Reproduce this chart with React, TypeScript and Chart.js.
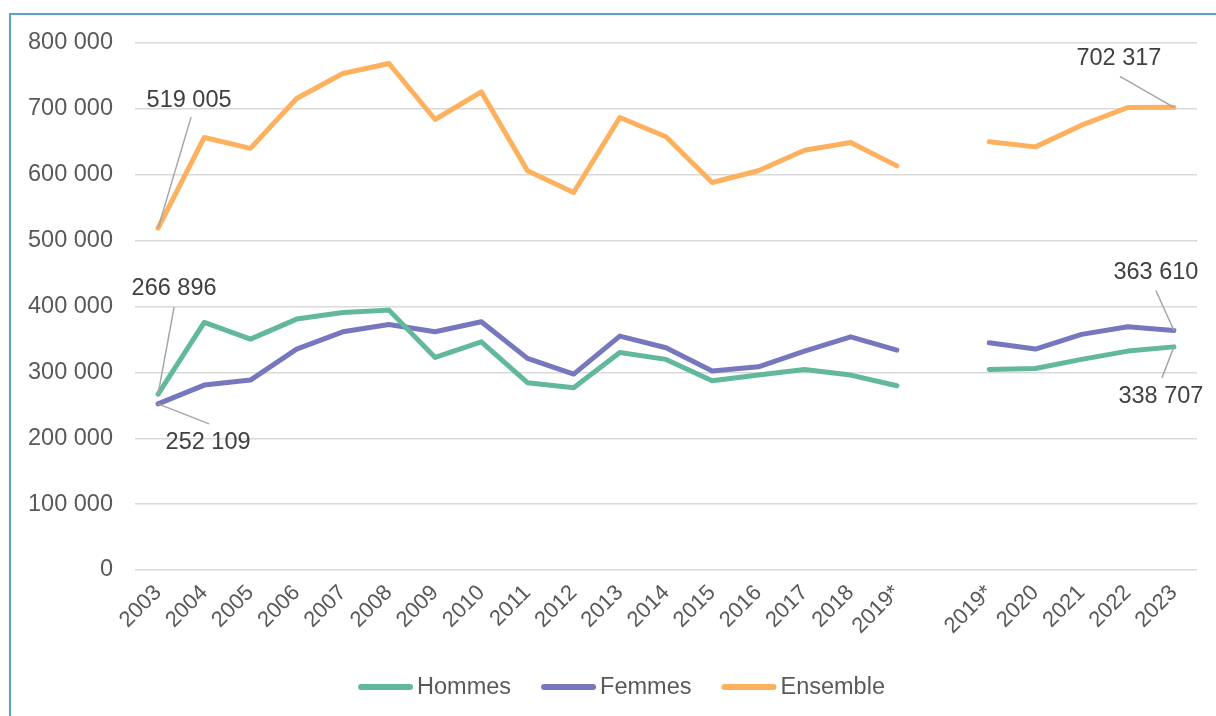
import React, { useEffect, useRef } from "react";
import { Chart, registerables } from "chart.js";

Chart.register(...registerables);

const categories: string[] = [
  "2003", "2004", "2005", "2006", "2007", "2008", "2009", "2010", "2011", "2012",
  "2013", "2014", "2015", "2016", "2017", "2018", "2019*", "", "2019*", "2020",
  "2021", "2022", "2023",
];

const hommes: (number | null)[] = [
  266896, 375800, 350500, 380900, 391000, 394500, 322700, 346400, 284300, 276700,
  330300, 319700, 287300, 295900, 304500, 295900, 279700, null, 304500, 306000,
  319700, 332300, 338707,
];

const femmes: (number | null)[] = [
  252109, 280700, 288300, 335400, 361600, 372800, 361600, 376800, 321200, 297400,
  355100, 337400, 302000, 308500, 332300, 354000, 333800, null, 344900, 335400,
  357700, 369200, 363610,
];

const ensemble: (number | null)[] = [
  519005, 656600, 640000, 715800, 753700, 768900, 683900, 725800, 606000, 573100,
  686900, 657600, 588300, 606000, 637300, 649000, 613500, null, 650000, 642300,
  675300, 702100, 702317,
];

const seriesNames = ["Hommes", "Femmes", "Ensemble"];
const seriesColors = ["#62b89b", "#7777bf", "#fdb05e"];

const yTicks = { min: 0, max: 800000, step: 100000 };

// annotated points: dataset index, point index, text offset, leader end offset
const annotations = [
  { ds: 2, i: 0, tx: 31, ty: -128, lx: 33, ly: -111 },
  { ds: 0, i: 0, tx: 16, ty: -106, lx: 16, ly: -87 },
  { ds: 1, i: 0, tx: 50, ty: 39, lx: 51, ly: 20 },
  { ds: 2, i: 22, tx: -55, ty: -49, lx: -54, ly: -31 },
  { ds: 1, i: 22, tx: -18, ty: -58, lx: -18, ly: -40 },
  { ds: 0, i: 22, tx: -13, ty: 50, lx: -12, ly: 31 },
];

const FONT = "'Liberation Sans', Arial, sans-serif";
const fmt = (v: number) => String(Math.round(v)).replace(/\B(?=(\d{3})+(?!\d))/g, " ");

const labelPlugin = {
  id: "leaderLabels",
  afterDatasetsDraw(chart: any) {
    const ctx = chart.ctx;
    ctx.save();
    annotations.forEach((a) => {
      const meta = chart.getDatasetMeta(a.ds);
      const el = meta.data[a.i];
      const v = chart.data.datasets[a.ds].data[a.i];
      if (!el || v == null) return;
      const x = el.x, y = el.y;
      ctx.strokeStyle = "#a6a6a6";
      ctx.lineWidth = 1.5;
      ctx.beginPath();
      ctx.moveTo(x, y);
      ctx.lineTo(x + a.lx, y + a.ly);
      ctx.stroke();
      ctx.fillStyle = "#404040";
      ctx.font = `23.5px ${FONT}`;
      ctx.textAlign = "center";
      ctx.textBaseline = "middle";
      ctx.fillText(fmt(v), x + a.tx, y + a.ty);
    });
    ctx.restore();
  },
};

const legendPlugin = {
  id: "customLegend",
  afterDraw(chart: any) {
    const ctx = chart.ctx;
    ctx.save();
    ctx.font = `23.5px ${FONT}`;
    const lineW = 55, gapText = 4, gapItem = 30;
    const widths = seriesNames.map((n) => lineW + gapText + ctx.measureText(n).width);
    const total = widths.reduce((s, w) => s + w, 0) + gapItem * (seriesNames.length - 1);
    let x = 621.5 - total / 2;
    const y = 687;
    seriesNames.forEach((n, k) => {
      ctx.strokeStyle = seriesColors[k];
      ctx.lineWidth = 6;
      ctx.lineCap = "round";
      ctx.beginPath();
      ctx.moveTo(x + 3, y);
      ctx.lineTo(x + lineW - 3, y);
      ctx.stroke();
      ctx.fillStyle = "#595959";
      ctx.textAlign = "left";
      ctx.textBaseline = "middle";
      ctx.fillText(n, x + lineW + gapText, y + 1);
      x += widths[k] + gapItem;
    });
    ctx.restore();
  },
};

export default function App() {
  const ref = useRef<HTMLCanvasElement | null>(null);

  useEffect(() => {
    if (!ref.current) return;
    const data = [hommes, femmes, ensemble];
    const chart = new Chart(ref.current, {
      type: "line",
      data: {
        labels: categories,
        datasets: seriesNames.map((name, k) => ({
          label: name,
          data: data[k],
          borderColor: seriesColors[k],
          backgroundColor: seriesColors[k],
          borderWidth: 5,
          pointRadius: 0,
          pointHoverRadius: 0,
          borderJoinStyle: "round" as const,
          borderCapStyle: "round" as const,
          tension: 0,
          spanGaps: false,
        })),
      },
      options: {
        responsive: false,
        animation: false,
        layout: { padding: { left: 0, top: 43, right: 19, bottom: 56 } },
        plugins: {
          legend: { display: false },
          tooltip: { enabled: false },
        },
        scales: {
          x: {
            offset: true,
            grid: { display: false, drawTicks: false },
            border: { display: false },
            ticks: {
              autoSkip: false,
              minRotation: 45,
              maxRotation: 45,
              padding: 10,
              color: "#595959",
              font: { family: FONT, size: 22 },
            },
            afterFit(scale: any) {
              scale.height = 90;
            },
          },
          y: {
            min: yTicks.min,
            max: yTicks.max,
            grid: { color: "#d9d9d9", lineWidth: 1.5, drawTicks: false },
            border: { display: false },
            ticks: {
              stepSize: yTicks.step,
              padding: 22,
              color: "#595959",
              font: { family: FONT, size: 23.5 },
              callback: (v: any) => fmt(Number(v)),
            },
            afterFit(scale: any) {
              scale.width = 135;
            },
          },
        },
      },
      plugins: [labelPlugin, legendPlugin],
    });
    return () => chart.destroy();
  }, []);

  return (
    <div style={{ position: "absolute", left: 0, top: 0, width: 1216, height: 716, background: "#fff", overflow: "hidden" }}>
      <canvas ref={ref} width={1216} height={716} style={{ display: "block", position: "absolute", left: 0, top: 0 }} />
      <div
        style={{
          position: "absolute",
          left: 9,
          top: 13,
          right: -10,
          bottom: -10,
          borderTop: "2px solid #5ea2c5",
          borderLeft: "2px solid #5ea2c5",
          pointerEvents: "none",
        }}
      />
    </div>
  );
}
